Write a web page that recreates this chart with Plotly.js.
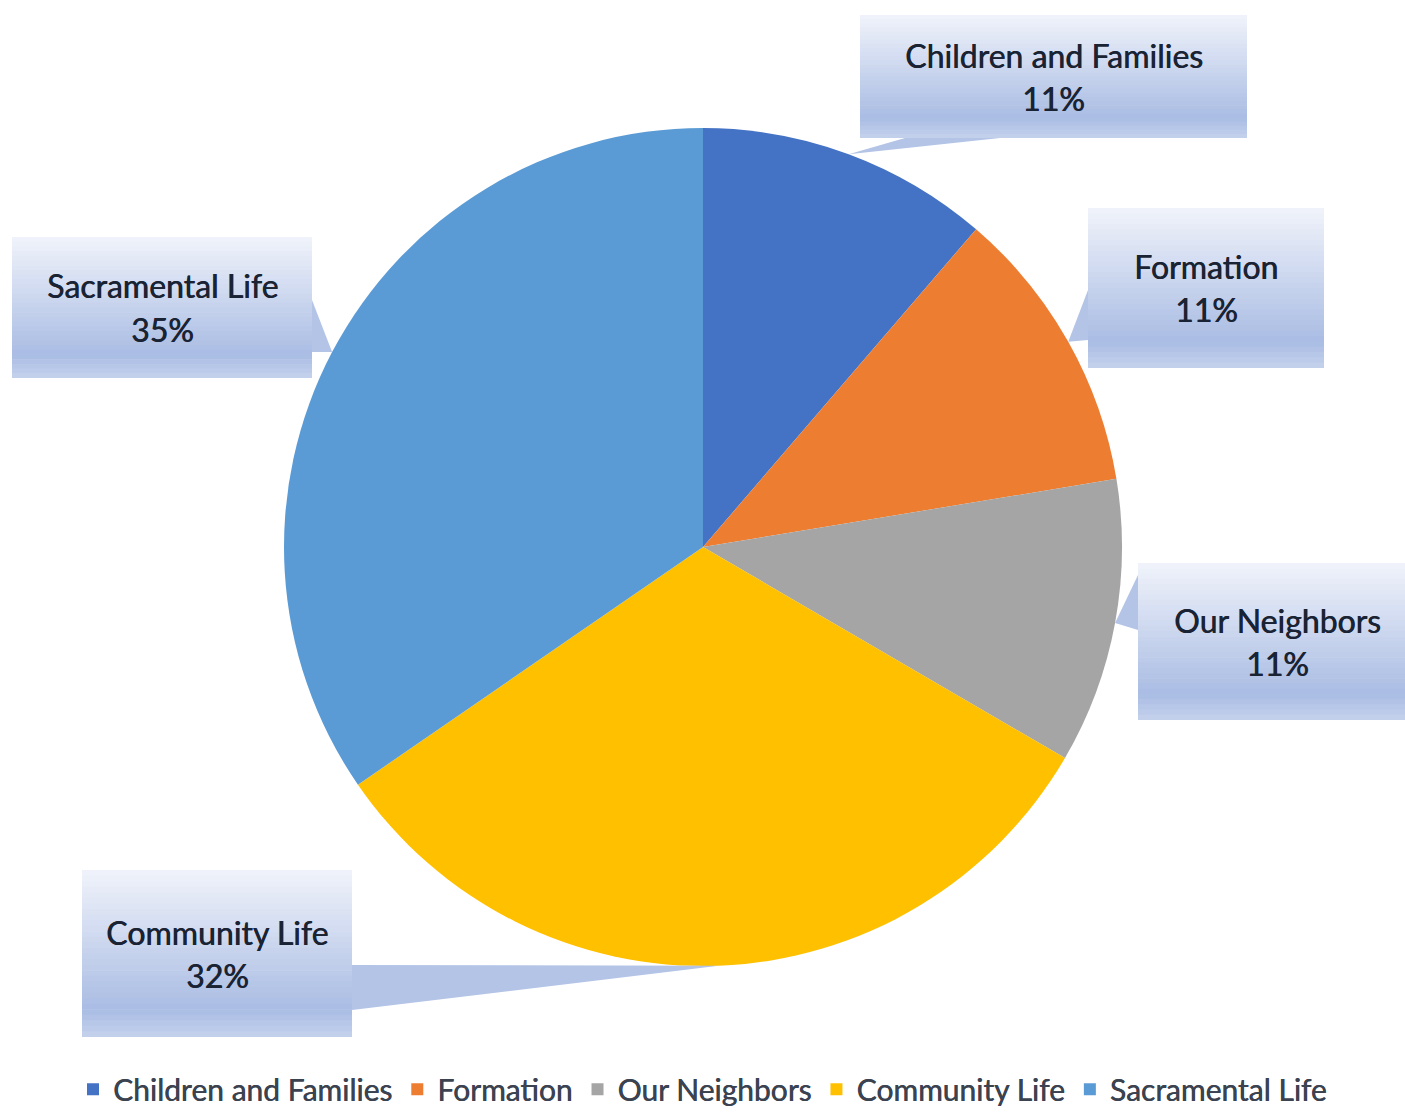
<!DOCTYPE html>
<html><head><meta charset="utf-8">
<script src="https://cdn.plot.ly/plotly-3.0.1.min.js"></script>
<style>html,body{margin:0;padding:0;background:#fff;}#chart{width:1405px;height:1112px;}</style>
</head><body><div id="chart"></div>
<script>
const labels = ['Children and Families','Formation','Our Neighbors','Community Life','Sacramental Life'];
const values = [11.3, 11.1, 11.0, 32.0, 34.6];
const colors = ['#4472C4','#ED7D31','#A5A5A5','#FFC000','#5B9BD5'];

const W = 1405, H = 1112;
const cx = 703, cy = 547, R = 419;
const px = x => x / W, py = y => 1 - y / H;

// callout boxes (pixel layout) and pointer base points
const boxes = [
  {x0:860, x1:1247, y0:15,  y1:138, base:[[905,138],[1000,138]]},
  {x0:1088,x1:1324, y0:208, y1:368, base:[[1088,290],[1088,340]]},
  {x0:1138,x1:1415, y0:563, y1:720, base:[[1138,575],[1138,630]]},
  {x0:82,  x1:352,  y0:870, y1:1037,base:[[352,965],[352,1010]]},
  {x0:12,  x1:312,  y0:237, y1:378, base:[[312,300],[312,352]]}
];

const total = values.reduce((a,b)=>a+b,0);
const shapes = [];
const annotations = [];
let cum = 0;
function mix(a,b,t){const pa=a.match(/\w\w/g).map(h=>parseInt(h,16)),pb=b.match(/\w\w/g).map(h=>parseInt(h,16));return 'rgb('+pa.map((v,i)=>Math.round(v+(pb[i]-v)*t)).join(',')+')';}
values.forEach((v,i)=>{
  const mid = (cum + v/2)/total*2*Math.PI; cum += v;
  const tx = cx + R*Math.sin(mid), ty = cy - R*Math.cos(mid);
  const b = boxes[i];
  shapes.push({type:'path', xref:'paper', yref:'paper', layer:'above',
    path:`M${px(b.base[0][0])},${py(b.base[0][1])} L${px(tx)},${py(ty)} L${px(b.base[1][0])},${py(b.base[1][1])} Z`,
    fillcolor:'#b3c4e6', line:{width:0}});
  const n = 30;
  for(let k=0;k<n;k++){
    const t = k/(n-1);
    let c;
    if(t<0.85) c = mix('eff2fa','a9bce3', t/0.85); else c = mix('a9bce3','c3d0ec',(t-0.85)/0.15);
    const ya = b.y0 + (b.y1-b.y0)*k/n, yb = b.y0 + (b.y1-b.y0)*(k+1)/n + 0.6;
    shapes.push({type:'rect', xref:'paper', yref:'paper', layer:'above',
      x0:px(b.x0), x1:px(b.x1), y0:py(ya), y1:py(Math.min(yb,b.y1)), fillcolor:c, line:{width:0}});
  }
  const mx = (b.x0 + Math.min(b.x1,W+6))/2 + (i===2?3:0), my = (b.y0+b.y1)/2;
  const pct = Math.round(v/total*100) + '%';
  [[labels[i], my-21.5],[pct, my+21.5]].forEach(([t,yy])=>{
    annotations.push({xref:'paper', yref:'paper', x:px(mx), y:py(yy), xanchor:'center', yanchor:'middle',
      text:t, showarrow:false,
      font:{family:'Lato, sans-serif', size:32, color:'#1a2333', shadow:'0.6px 0 0 #1a2333'}});
  });
});

const trace = {
  type:'pie', labels:labels, values:values, sort:false, direction:'clockwise', rotation:0,
  marker:{colors:colors, line:{width:0}}, textinfo:'none', hoverinfo:'label+percent',
  domain:{x:[px(cx-R), px(cx+R)], y:[py(cy+R), py(cy-R)]}
};

const layout = {
  width:W, height:H, margin:{l:0,r:0,t:0,b:0, autoexpand:false}, paper_bgcolor:'#fff',
  showlegend:true,
  legend:{orientation:'h', x:0.5, xanchor:'center', y:-0.003, yanchor:'bottom',
    font:{family:'Lato, sans-serif', size:30, color:'#3b4250', shadow:'0.5px 0 0 #3b4250'}, itemwidth:30, traceorder:'normal'},
  shapes:shapes, annotations:annotations
};
Plotly.newPlot('chart',[trace],layout,{displayModeBar:false});
</script></body></html>
